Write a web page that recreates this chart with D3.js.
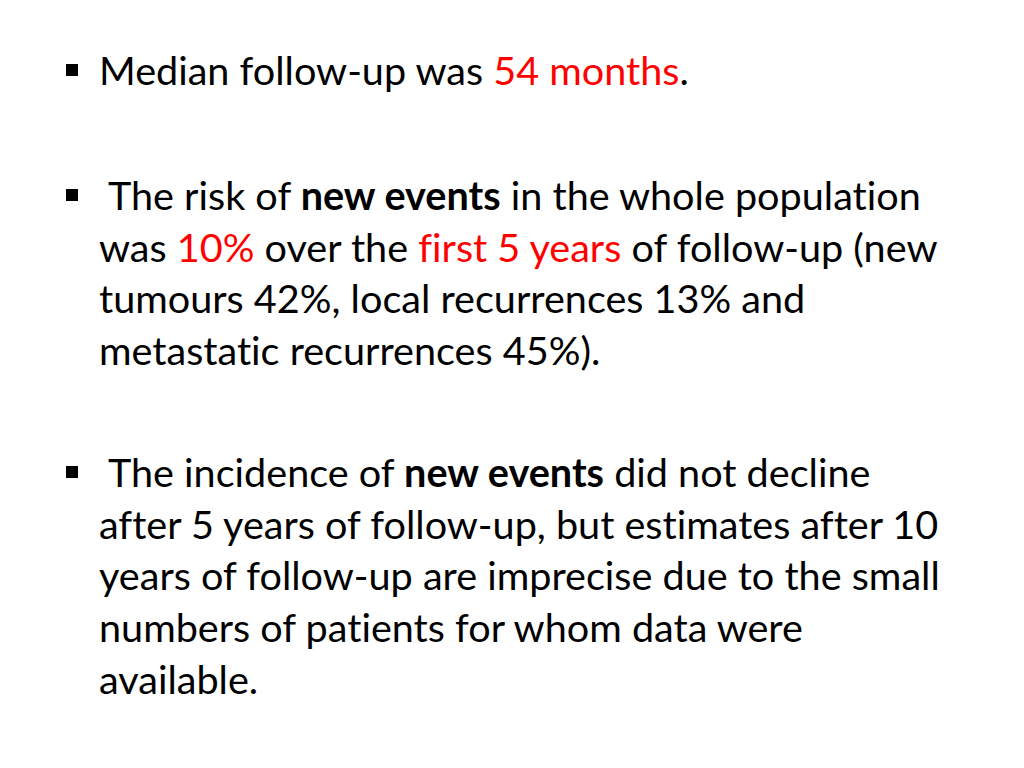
<!DOCTYPE html>
<html lang="en">
	<head>
		<meta charset="utf-8">
		<title>Follow-up summary</title>
		<script type="text/javascript" src="https://d3js.org/d3.v7.min.js"></script>
		<style type="text/css">
			body { margin: 0; background: #fff; }
			text { white-space: pre; font-variant-ligatures: none; font-feature-settings: "liga" 0, "clig" 0; }
		</style>
	</head>
	<body>
		<script type="text/javascript">

			//Width and height
			var w = 1024;
			var h = 768;

			// each bullet: list of lines, each line: list of [text, style]
			// style: "n" normal, "b" bold, "r" red
			var bullet1 = [
				[["Median follow-up was ", "n"], ["54 months", "r"], [".", "n"]]
			];
			var bullet2 = [
				[[" The risk of ", "n"], ["new events", "b"], [" in the whole population", "n"]],
				[["was ", "n"], ["10%", "r"], [" over the ", "n"], ["first 5 years", "r"], [" of follow-up (new", "n"]],
				[["tumours 42%, local recurrences 13% and", "n"]],
				[["metastatic recurrences 45%).", "n"]]
			];
			var bullet3 = [
				[[" The incidence of ", "n"], ["new events", "b"], [" did not decline", "n"]],
				[["after 5 years of follow-up, but estimates after 10", "n"]],
				[["years of follow-up are imprecise due to the small", "n"]],
				[["numbers of patients for whom data were", "n"]],
				[["available.", "n"]]
			];
			var bullets = [bullet1, bullet2, bullet3];

			// first baseline of each bullet
			var bulletTops = [85, 210, 487];
			var lineGap = 51.7;
			var textX = 99;
			var fitLine = "years of follow-up are imprecise due to the small";
			var fitWidth = 841;

			var svg = d3.select("body")
						.append("svg")
						.attr("width", w)
						.attr("height", h);

			// find a font size so the longest line spans like the original
			var probe = svg.append("text")
				.attr("font-family", "Lato, 'Open Sans', sans-serif")
				.attr("font-size", 100)
				.text(fitLine);
			var fs = 100 * fitWidth / probe.node().getComputedTextLength();
			probe.remove();

			var lineY = d3.scaleLinear().domain([0, 1]).range([0, lineGap]);

			var groups = svg.selectAll("g.bullet")
				.data(bullets)
				.enter()
				.append("g")
				.attr("class", "bullet")
				.attr("transform", function(d, i){ return "translate(0," + bulletTops[i] + ")"; });

			// square bullet markers
			groups.append("rect")
				.attr("x", 66)
				.attr("y", -21)
				.attr("width", 12)
				.attr("height", 12)
				.attr("fill", "#000");

			groups.selectAll("text")
				.data(function(d){ return d; })
				.enter()
				.append("text")
				.attr("x", textX)
				.attr("y", function(d, i){ return lineY(i); })
				.attr("font-family", "Lato, 'Open Sans', sans-serif")
				.attr("font-size", fs)
				.attr("fill", "#000")
				.selectAll("tspan")
				.data(function(d){ return d; })
				.enter()
				.append("tspan")
				.text(function(d){ return d[0]; })
				.attr("font-weight", function(d){ return d[1] === "b" ? "bold" : "normal"; })
				.attr("fill", function(d){ return d[1] === "r" ? "#ff0000" : "#000"; });

		</script>
	</body>
</html>
